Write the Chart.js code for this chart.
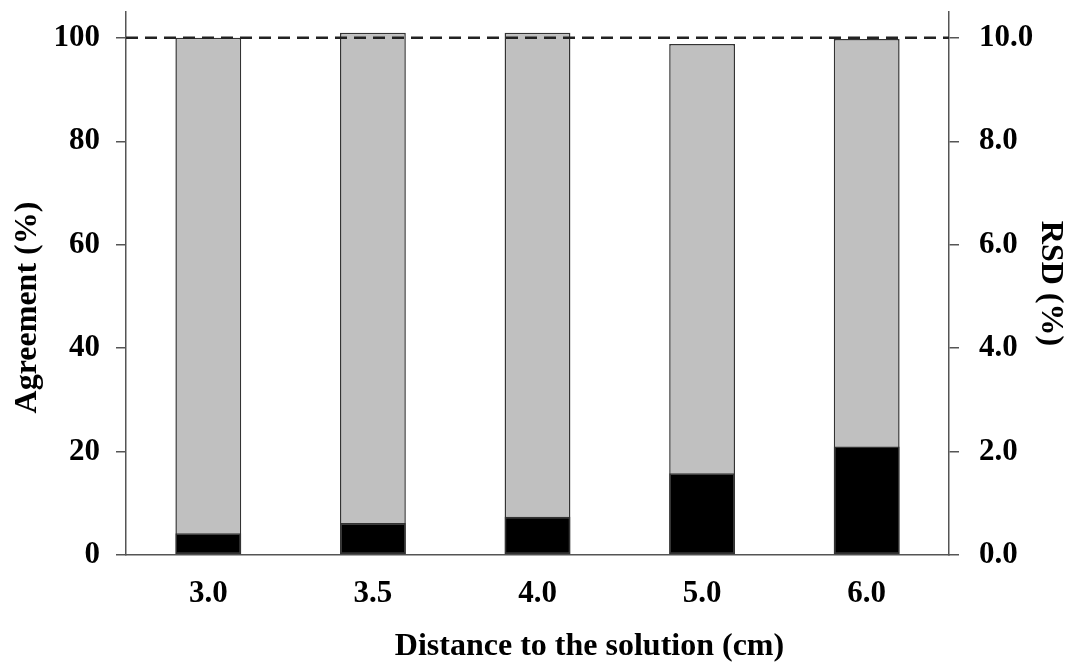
<!DOCTYPE html>
<html>
<head>
<meta charset="utf-8">
<script src="https://cdn.jsdelivr.net/npm/chart.js@4.4.1/dist/chart.umd.min.js"></script>
<style>
  html, body { margin: 0; padding: 0; background: #fff; }
  canvas { display: block; }
</style>
</head>
<body>
<canvas id="myChart" width="1078" height="663"></canvas>
<script>
// values
const categories = ["3.0", "3.5", "4.0", "5.0", "6.0"];
const agreement = [100.0, 101.0, 101.0, 98.8, 99.8];
const rsd = [0.42, 0.62, 0.74, 1.58, 2.10];
const leftTicks = [0, 20, 40, 60, 80, 100];
const rightTicks = [0, 2, 4, 6, 8, 10];
const referenceLine = 100;
const xTitle = "Distance to the solution (cm)";
const yTitle = "Agreement (%)";

const axisColor = "#555";
const tickFont = { family: "Liberation Serif", size: 31, weight: "bold" };
const titleFont = { family: "Liberation Serif", size: 32, weight: "bold" };

// dashed line at 100 % across the plot, plus the x and left titles
// (both sit a little off centre in the original)
const refLinePlugin = {
  id: "refLine",
  afterDatasetsDraw(chart) {
    const { ctx, chartArea, scales } = chart;
    const y = scales.y.getPixelForValue(referenceLine);
    ctx.save();
    ctx.strokeStyle = "#222";
    ctx.lineWidth = 2.5;
    ctx.setLineDash([12, 7]);
    ctx.beginPath();
    ctx.moveTo(chartArea.left, y);
    ctx.lineTo(chartArea.right, y);
    ctx.stroke();
    ctx.restore();
  },
  afterDraw(chart) {
    const { ctx, chartArea } = chart;
    ctx.save();
    ctx.font = "bold 32px 'Liberation Serif'";
    ctx.fillStyle = "#000";
    ctx.textAlign = "center";
    ctx.textBaseline = "alphabetic";
    ctx.fillText(xTitle, (chartArea.left + chartArea.right) / 2 + 52, chart.height - 8);
    ctx.translate(28, (chartArea.top + chartArea.bottom) / 2 + 24);
    ctx.rotate(-Math.PI / 2);
    ctx.textBaseline = "middle";
    ctx.fillText(yTitle, 0, 0);
    ctx.restore();
  }
};

const option = {
  type: "bar",
  data: {
    labels: categories,
    datasets: [
      {
        label: "RSD",
        data: rsd,
        yAxisID: "y2",
        backgroundColor: "#000",
        borderColor: "#333",
        borderWidth: 1.5,
        borderSkipped: false,
        grouped: false,
        barPercentage: 0.4,
        categoryPercentage: 1,
        order: 0
      },
      {
        label: "Agreement",
        data: agreement,
        yAxisID: "y",
        backgroundColor: "#c0c0c0",
        borderColor: "#333",
        borderWidth: 1.5,
        borderSkipped: false,
        grouped: false,
        barPercentage: 0.4,
        categoryPercentage: 1,
        order: 1
      }
    ]
  },
  options: {
    responsive: false,
    animation: false,
    layout: { padding: { top: 12, left: 0, right: 0, bottom: 0 } },
    plugins: {
      legend: { display: false },
      tooltip: { enabled: false }
    },
    scales: {
      x: {
        grid: { display: false, drawTicks: false },
        border: { display: true, color: axisColor, width: 1.5 },
        ticks: { color: "#000", font: tickFont, padding: 20 },
        title: { display: false },
        afterFit(scale) {
          scale.height = 108;
          scale.paddingLeft = 0;
          scale.paddingRight = 0;
        }
      },
      y: {
        position: "left",
        min: 0,
        max: 105,
        afterBuildTicks(scale) { scale.ticks = leftTicks.map(v => ({ value: v })); },
        grid: { drawOnChartArea: false, drawTicks: true, tickLength: 10, color: axisColor, lineWidth: 1.5 },
        border: { display: true, color: axisColor, width: 1.5 },
        ticks: { color: "#000", font: tickFont, padding: 16 },
        title: { display: false },
        afterFit(scale) {
          scale.width = 126;
          scale.paddingTop = 0;
          scale.paddingBottom = 0;
        }
      },
      y2: {
        position: "right",
        min: 0,
        max: 10.5,
        afterBuildTicks(scale) { scale.ticks = rightTicks.map(v => ({ value: v })); },
        grid: { drawOnChartArea: false, drawTicks: true, tickLength: 10, color: axisColor, lineWidth: 1.5 },
        border: { display: true, color: axisColor, width: 1.5 },
        ticks: { color: "#000", font: tickFont, padding: 20, callback: v => v.toFixed(1) },
        title: {
          display: true,
          text: "RSD (%)",
          color: "#000",
          font: titleFont,
          padding: { top: 9, bottom: 0 }
        },
        afterFit(scale) {
          scale.width = 129;
          scale.paddingTop = 0;
          scale.paddingBottom = 0;
        }
      }
    }
  },
  plugins: [refLinePlugin]
};

const myChart = new Chart(document.getElementById("myChart"), option);
</script>
</body>
</html>
